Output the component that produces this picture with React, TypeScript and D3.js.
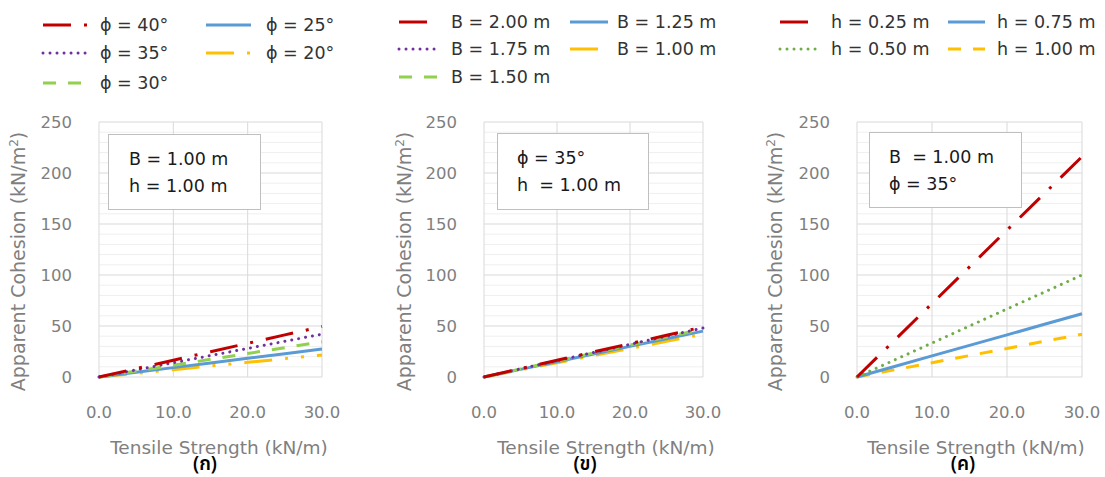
import React, {useEffect, useRef} from 'react';
import * as d3 from 'd3';

// x values shared by every series (kN/m)
const tensile = [0, 5, 10, 15, 20, 25, 30];

// panel (ก): B = 1.00 m, h = 1.00 m
const phiLabels = ["ϕ = 40°", "ϕ = 35°", "ϕ = 30°", "ϕ = 25°", "ϕ = 20°"];
const phi40 = [0, 8.2, 16.5, 24.8, 33, 41.3, 49.5];
const phi35 = [0, 7, 14, 21, 28, 35, 42];
const phi30 = [0, 5.8, 11.5, 17.3, 23, 28.8, 34.5];
const phi25 = [0, 4.6, 9.2, 13.8, 18.3, 22.9, 27.5];
const phi20 = [0, 3.6, 7.2, 10.8, 14.4, 18, 21.5];

// panel (ข): phi = 35, h = 1.00 m
const bLabels = ["B = 2.00 m", "B = 1.75 m", "B = 1.50 m", "B = 1.25 m", "B = 1.00 m"];
const b200 = [0, 8.2, 16.4, 24.6, 32.7, 40.9, 49];
const b175 = [0, 8, 16, 24, 32, 40, 48];
const b150 = [0, 7.8, 15.7, 23.5, 31.3, 39.2, 47];
const b125 = [0, 7.5, 15, 22.5, 30, 37.5, 45];
const b100 = [0, 7, 14, 21, 28, 35, 42];

// panel (ค): B = 1.00 m, phi = 35
const hLabels = ["h = 0.25 m", "h = 0.50 m", "h = 0.75 m", "h = 1.00 m"];
const h025 = [0, 36, 72, 108, 144, 180, 216];
const h050 = [0, 16.7, 33.3, 50, 66.7, 83.3, 100];
const h075 = [0, 10.3, 20.7, 31, 41.3, 51.7, 62];
const h100 = [0, 7, 14, 21, 28, 35, 42];

const xTicks = [0, 10, 20, 30];
const yTicks = [0, 50, 100, 150, 200, 250];

type Style = {color: string, dash: string, cap: string};
const RED = "#C00000", PURPLE = "#7030A0", LGREEN = "#92D050", GREEN = "#70AD47",
  BLUE = "#5B9BD5", GOLD = "#FFC000";
const dashDot = "28 13 3 13";
const dashDotDot = "28 13 3 13 3 13";
const roundDot = "0.01 7";
const dashed = "13 12";

const phiStyles: Style[] = [
  {color: RED, dash: dashDot, cap: "butt"},
  {color: PURPLE, dash: roundDot, cap: "round"},
  {color: LGREEN, dash: dashed, cap: "butt"},
  {color: BLUE, dash: "none", cap: "butt"},
  {color: GOLD, dash: dashDotDot, cap: "butt"},
];
const bStyles: Style[] = [
  {color: RED, dash: dashDot, cap: "butt"},
  {color: PURPLE, dash: roundDot, cap: "round"},
  {color: LGREEN, dash: dashed, cap: "butt"},
  {color: BLUE, dash: "none", cap: "butt"},
  {color: GOLD, dash: dashDot, cap: "butt"},
];
const hStyles: Style[] = [
  {color: RED, dash: dashDot, cap: "butt"},
  {color: GREEN, dash: roundDot, cap: "round"},
  {color: BLUE, dash: "none", cap: "butt"},
  {color: GOLD, dash: dashed, cap: "butt"},
];

const FONT = "'DejaVu Sans', 'Noto Sans', sans-serif";
const PLOT_TOP = 122, PLOT_BOTTOM = 377;

type PanelProps = {
  left: number, right: number,
  labels: string[], values: number[][], styles: Style[],
  legendSlots: [number, number, number][], // symbol x, text x, y
  legendSymbolWidth: number,
  box: [number, number, number, number], boxLines: string[], boxTextX: number,
  yTitleX: number, xTitleX: number, tag: string, tagX: number,
};

const Panel: React.FC<PanelProps> = (p) => {
  const ref = useRef<SVGGElement>(null);

  useEffect(() => {
    const g = d3.select(ref.current);
    g.selectAll("*").remove();

    const x = d3.scaleLinear().domain([0, 30]).range([p.left, p.right]);
    const y = d3.scaleLinear().domain([0, 250]).range([PLOT_BOTTOM, PLOT_TOP]);

    // minor horizontal grid every 10
    g.append("g").selectAll("line")
    .data(d3.range(10, 250, 10).filter(v => v % 50 !== 0))
    .enter().append("line")
    .attr("x1", p.left).attr("x2", p.right)
    .attr("y1", d => y(d)).attr("y2", d => y(d))
    .attr("stroke", "#efefef").attr("stroke-width", 1);

    // major grid
    g.append("g").selectAll("line")
    .data(yTicks)
    .enter().append("line")
    .attr("x1", p.left).attr("x2", p.right)
    .attr("y1", d => y(d)).attr("y2", d => y(d))
    .attr("stroke", "#d9d9d9").attr("stroke-width", 1);
    g.append("g").selectAll("line")
    .data(xTicks)
    .enter().append("line")
    .attr("x1", d => x(d)).attr("x2", d => x(d))
    .attr("y1", PLOT_TOP).attr("y2", PLOT_BOTTOM)
    .attr("stroke", "#d9d9d9").attr("stroke-width", 1);

    // tick labels
    g.append("g").selectAll("text")
    .data(yTicks)
    .enter().append("text")
    .attr("x", p.left - 27).attr("y", d => y(d)).attr("dy", "0.35em")
    .attr("text-anchor", "end")
    .attr("fill", "#7f7f7f").attr("font-size", 16.5).attr("font-family", FONT)
    .text(d => d);
    g.append("g").selectAll("text")
    .data(xTicks)
    .enter().append("text")
    .attr("x", d => x(d)).attr("y", 412).attr("dy", "0.35em")
    .attr("text-anchor", "middle")
    .attr("fill", "#7f7f7f").attr("font-size", 16.5).attr("font-family", FONT)
    .text(d => d3.format(".1f")(d));

    // axis titles
    g.append("text")
    .attr("transform", `translate(${p.yTitleX},${(PLOT_TOP + PLOT_BOTTOM) / 2 + 12}) rotate(-90)`)
    .attr("text-anchor", "middle").attr("dy", "0.35em")
    .attr("fill", "#7f7f7f").attr("font-size", 19).attr("font-family", FONT)
    .call(t => {
      t.append("tspan").text("Apparent Cohesion (kN/m");
      t.append("tspan").attr("baseline-shift", "super").attr("font-size", 12).text("2");
      t.append("tspan").text(")");
    });
    g.append("text")
    .attr("x", p.xTitleX).attr("y", 448).attr("dy", "0.35em")
    .attr("text-anchor", "middle")
    .attr("fill", "#7f7f7f").attr("font-size", 18.5).attr("font-family", FONT)
    .text("Tensile Strength (kN/m)");

    // annotation box
    const [bx0, by0, bx1, by1] = p.box;
    g.append("rect")
    .attr("x", bx0 + 0.5).attr("y", by0 + 0.5)
    .attr("width", bx1 - bx0).attr("height", by1 - by0)
    .attr("fill", "white").attr("stroke", "#bfbfbf");
    g.append("g").selectAll("text")
    .data(p.boxLines)
    .enter().append("text")
    .attr("x", p.boxTextX).attr("y", (_, i) => by0 + 25 + i * 27).attr("dy", "0.35em")
    .attr("fill", "#1a1a1a").attr("font-size", 17.5).attr("font-family", FONT)
    .style("white-space", "pre")
    .text(d => d);

    // series lines
    const line = d3.line<number>()
    .x((_, i) => x(tensile[i]))
    .y(d => y(d));
    g.append("g").selectAll("path")
    .data(p.values.map((v, i) => ({v, s: p.styles[i]})).reverse())
    .enter().append("path")
    .attr("d", d => line(d.v))
    .attr("fill", "none")
    .attr("stroke", d => d.s.color)
    .attr("stroke-width", 3)
    .attr("stroke-dasharray", d => d.s.dash)
    .attr("stroke-linecap", d => d.s.cap);

    // legend
    const leg = g.append("g");
    p.labels.forEach((label, i) => {
      const [sx, tx, ly] = p.legendSlots[i];
      const s = p.styles[i];
      leg.append("line")
      .attr("x1", sx).attr("x2", sx + p.legendSymbolWidth)
      .attr("y1", ly).attr("y2", ly)
      .attr("stroke", s.color).attr("stroke-width", 3)
      .attr("stroke-dasharray", s.dash).attr("stroke-linecap", s.cap);
      leg.append("text")
      .attr("x", tx).attr("y", ly).attr("dy", "0.35em")
      .attr("fill", "#333333").attr("font-size", 17.5).attr("font-family", FONT)
      .text(label);
    });

    // panel tag
    g.append("text")
    .attr("x", p.tagX).attr("y", 463).attr("dy", "0.35em")
    .attr("text-anchor", "middle")
    .attr("fill", "#000").attr("font-size", 19).attr("font-weight", 600)
    .attr("font-family", "'Noto Sans Thai', 'Noto Sans', 'DejaVu Sans', sans-serif")
    .text(p.tag);
  }, []);

  return <g ref={ref}/>;
};

export default function App() {
  return (
    <div style={{position: "absolute", left: 0, top: 0, background: "white"}}>
      <svg width={1105} height={477} style={{display: "block"}}>
        <rect width={1105} height={477} fill="white"/>
        <Panel
          left={99} right={322}
          labels={phiLabels} values={[phi40, phi35, phi30, phi25, phi20]} styles={phiStyles}
          legendSlots={[[43, 100, 25], [43, 100, 53], [43, 100, 83], [206, 266, 25], [206, 266, 53]]}
          legendSymbolWidth={45}
          box={[108, 134, 260, 209]} boxLines={["B = 1.00 m", "h = 1.00 m"]} boxTextX={129}
          yTitleX={18} xTitleX={219} tag="(ก)" tagX={205}
        />
        <Panel
          left={484} right={703}
          labels={bLabels} values={[b200, b175, b150, b125, b100]} styles={bStyles}
          legendSlots={[[399, 451, 22], [399, 451, 49], [399, 451, 77], [570, 617, 22], [570, 617, 49]]}
          legendSymbolWidth={38}
          box={[497, 133, 648, 209]} boxLines={["ϕ = 35°", "h  = 1.00 m"]} boxTextX={517}
          yTitleX={404} xTitleX={606} tag="(ข)" tagX={585}
        />
        <Panel
          left={857} right={1082}
          labels={hLabels} values={[h025, h050, h075, h100]} styles={hStyles}
          legendSlots={[[780, 831, 22], [780, 831, 49], [948, 997, 22], [948, 997, 49]]}
          legendSymbolWidth={37}
          box={[869, 132, 1021, 207]} boxLines={["B  = 1.00 m", "ϕ = 35°"]} boxTextX={889}
          yTitleX={775} xTitleX={976} tag="(ค)" tagX={963}
        />
      </svg>
    </div>
  );
}
